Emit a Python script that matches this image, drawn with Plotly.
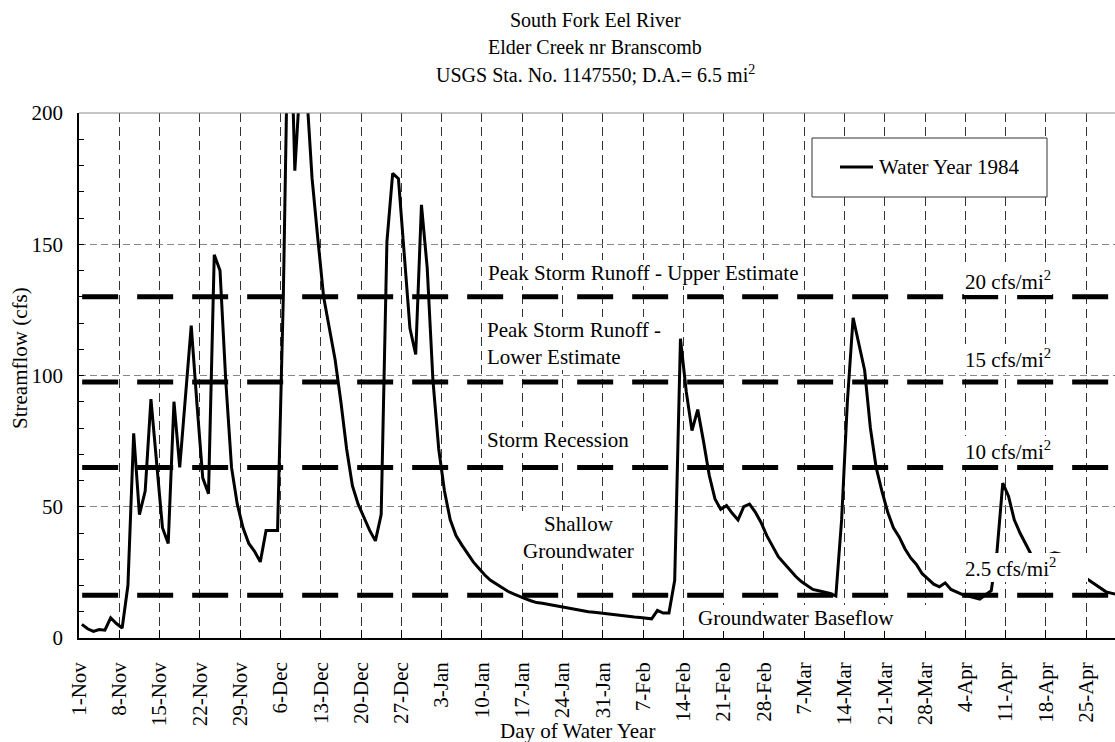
import plotly.graph_objects as go

# ---------------- data ----------------
tick_labels = ["1-Nov", "8-Nov", "15-Nov", "22-Nov", "29-Nov", "6-Dec", "13-Dec", "20-Dec",
               "27-Dec", "3-Jan", "10-Jan", "17-Jan", "24-Jan", "31-Jan", "7-Feb", "14-Feb",
               "21-Feb", "28-Feb", "7-Mar", "14-Mar", "21-Mar", "28-Mar", "4-Apr", "11-Apr",
               "18-Apr", "25-Apr"]
tick_days = [7 * k for k in range(len(tick_labels))]

# daily streamflow (cfs), water year 1984, starting 1-Nov
flow_nov = [5.2, 3.5, 2.5, 3.2, 3.0, 7.7, 5.5, 3.8, 20, 78, 47, 56, 91, 66, 42, 36, 90, 65, 92, 119,
            89, 61, 55, 146, 140, 98, 65, 51, 42, 36]
flow_dec = [33, 29, 41, 41, 41, 130, 260, 178, 215, 210, 175, 152, 130, 118, 106, 90, 72, 58, 51, 46,
            41, 37, 47, 151, 177, 175, 148, 118, 108, 165, 141]
flow_jan = [98, 72, 56, 45, 39, 35.5, 32, 29, 26.5, 24, 22, 20.5, 19, 17.8, 16.8, 15.8, 15, 14.2,
            13.5, 13.2, 12.8, 12.4, 12, 11.5, 11, 10.8, 10.3, 10, 9.8, 9.5, 9.2]
flow_feb = [9, 8.8, 8.5, 8.2, 8, 7.8, 7.5, 7.3, 10.5, 9.5, 9.5, 22, 114, 94, 79, 87, 75, 62, 53, 49,
            50.5, 47.5, 45, 50, 51, 48, 44, 39, 35]
flow_mar = [31, 28.5, 26, 23.5, 21.5, 20, 18.5, 18, 17.5, 17, 16, 45, 90, 122, 112, 102, 80, 65, 56,
            48, 42, 38.5, 34, 30.5, 28, 24.5, 22.5, 20.5, 19.5, 21, 18.5]
flow_apr = [17.5, 16.5, 16, 15.3, 14.8, 16.5, 18, 33, 59, 54, 45, 40, 36, 31.5, 30, 30.5, 31.8, 32.5,
            32, 30, 28, 25, 23.5, 22, 20.5, 19, 17.5, 17, 16.5]
flow = flow_nov + flow_dec + flow_jan + flow_feb + flow_mar + flow_apr
days = [i + 0.5 for i in range(len(flow))]

drainage_area = 6.5
unit_runoff = [20, 15, 10, 2.5]            # cfs/mi2
unit_labels = ["20 cfs/mi<sup>2</sup>", "15 cfs/mi<sup>2</sup>", "10 cfs/mi<sup>2</sup>",
               "2.5 cfs/mi<sup>2</sup>"]
thresholds = [u * drainage_area for u in unit_runoff]

FONT = "Liberation Serif"
FS = 21

# plot-area geometry in pixels (for placing annotations)
L, R, T, B = 79, 1115, 113, 638


def px(x):
    return (x - L) / (R - L)


def py(y):
    return (B - y) / (B - T)


fig = go.Figure()

# threshold lines
for v in thresholds:
    fig.add_trace(go.Scatter(x=[0.55, 181], y=[v, v], mode="lines",
                             line=dict(color="black", width=5, dash="36px,19px"),
                             showlegend=False, hoverinfo="skip"))

# streamflow line
fig.add_trace(go.Scatter(x=days, y=flow, mode="lines", name="Water Year 1984",
                         line=dict(color="black", width=3), showlegend=False))

annotations = []


def add_label(text, x, y, xanchor="left", align="left", width=None):
    a = dict(text=text, x=x, y=y, xref="paper", yref="paper", xanchor=xanchor, yanchor="middle",
             showarrow=False, align=align, bgcolor="white", borderpad=1, borderwidth=0,
             font=dict(family=FONT, size=FS, color="black"))
    if width is not None:
        a["width"] = width
    annotations.append(a)


add_label("Peak Storm Runoff - Upper Estimate", px(642.5), py(273), xanchor="center", align="center")
add_label("Peak Storm Runoff -<br>Lower Estimate", px(486), py(343.5))
add_label("Storm Recession", px(486), py(440))
add_label("Shallow<br>Groundwater", px(578), py(537.5), xanchor="center", align="center")
add_label("Groundwater Baseflow", px(697), py(618), width=228)
for lab, ypix in zip(unit_labels, [280, 358, 450, 567]):
    add_label(lab, px(964), py(ypix), width=122 if lab.startswith("2.5") else None)

# title
for t, ypix in zip(["South Fork Eel River", "Elder Creek nr Branscomb",
                    "USGS Sta. No. 1147550; D.A.= 6.5 mi<sup>2</sup>"], [20, 47, 74]):
    annotations.append(dict(text=t, x=px(595), y=py(ypix), xref="paper", yref="paper",
                            xanchor="center", yanchor="middle", showarrow=False,
                            font=dict(family=FONT, size=FS - 1, color="black")))

# axis titles
annotations.append(dict(text="Streamflow (cfs)", x=px(20), y=py(358), xref="paper", yref="paper",
                        textangle=-90, showarrow=False, xanchor="center", yanchor="middle",
                        font=dict(family=FONT, size=FS, color="black")))
annotations.append(dict(text="Day of Water Year", x=px(577), y=py(731), xref="paper", yref="paper",
                        showarrow=False, xanchor="center", yanchor="middle",
                        font=dict(family=FONT, size=FS, color="black")))

# manual legend
annotations.append(dict(text="Water Year 1984", x=px(877), y=py(167), xref="paper", yref="paper",
                        showarrow=False, xanchor="left", yanchor="middle",
                        font=dict(family=FONT, size=FS, color="black")))
shapes = [
    dict(type="rect", xref="paper", yref="paper", x0=px(812), x1=px(1047), y0=py(197), y1=py(138),
         line=dict(color="#333", width=1), fillcolor="white", layer="above"),
    dict(type="line", xref="paper", yref="paper", x0=px(840), x1=px(873), y0=py(167), y1=py(167),
         line=dict(color="black", width=3), layer="above"),
    dict(type="line", xref="paper", yref="paper", x0=0, x1=1, y0=1, y1=1,
         line=dict(color="#888", width=1), layer="above"),
]

fig.update_layout(
    width=1115, height=742,
    margin=dict(l=L, r=1115 - R, t=T, b=742 - B),
    paper_bgcolor="white", plot_bgcolor="white",
    font=dict(family=FONT, size=FS, color="black"),
    showlegend=False,
    annotations=annotations,
    shapes=shapes,
    xaxis=dict(range=[0, 180], tickmode="array", tickvals=tick_days, ticktext=tick_labels,
               tickangle=-90, ticks="inside", ticklen=8, tickcolor="black",
               showgrid=True, gridcolor="#333", griddash="9px,5px", gridwidth=1,
               showline=True, linecolor="black", linewidth=1.5, zeroline=False,
               ticklabelstandoff=14, tickfont=dict(family=FONT, size=FS)),
    yaxis=dict(range=[0, 200], tickvals=[0, 50, 100, 150, 200], ticks="inside", ticklen=5,
               tickcolor="black",
               minor=dict(dtick=10, ticks="inside", ticklen=5, tickcolor="black", showgrid=False),
               showgrid=True, gridcolor="#888", griddash="7px,4px", gridwidth=1,
               showline=True, linecolor="black", linewidth=1.5, zeroline=False,
               ticklabelstandoff=10, tickfont=dict(family=FONT, size=FS)),
)

fig.write_html("out.html")
